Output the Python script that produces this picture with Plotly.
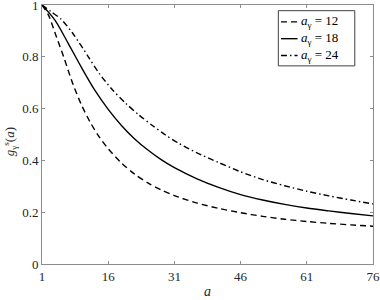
import plotly.graph_objects as go

# data
a_12 = [1, 2.5, 4, 6, 8, 10, 12, 14, 16, 19, 22, 25, 28, 31, 36, 41, 46, 51, 56, 61, 66, 71, 76]
g_12 = [1.0, 0.96, 0.89, 0.795, 0.695, 0.612, 0.545, 0.49, 0.445, 0.39, 0.347, 0.313, 0.286, 0.264, 0.236, 0.215, 0.198, 0.184, 0.173, 0.164, 0.157, 0.151, 0.146]

a_18 = [1, 4, 7, 10, 13, 16, 19, 22, 25, 28, 31, 36, 41, 46, 51, 56, 61, 66, 71, 76]
g_18 = [1.0, 0.94, 0.85, 0.757, 0.67, 0.597, 0.535, 0.483, 0.44, 0.403, 0.372, 0.33, 0.296, 0.268, 0.247, 0.23, 0.216, 0.205, 0.195, 0.186]

a_24 = [1, 3, 5.4, 8, 11.5, 14, 17, 20, 23, 26, 29, 32, 36, 41, 46, 51, 56, 61, 66, 71, 76]
g_24 = [1.0, 0.975, 0.944, 0.89, 0.80, 0.735, 0.672, 0.62, 0.575, 0.535, 0.498, 0.466, 0.43, 0.392, 0.356, 0.326, 0.302, 0.281, 0.263, 0.247, 0.232]

x_ticks = [1, 16, 31, 46, 61, 76]
y_ticks = [0, 0.2, 0.4, 0.6, 0.8, 1]
y_tick_labels = ["0", "0.2", "0.4", "0.6", "0.8", "1"]
legend_labels = ["<i>a</i><sub>γ</sub> = 12", "<i>a</i><sub>γ</sub> = 18", "<i>a</i><sub>γ</sub> = 24"]

dashes = ["6px,4px", "solid", "6px,3px,1.5px,3px"]
series = [(a_12, g_12), (a_18, g_18), (a_24, g_24)]

fig = go.Figure()
for (xs, ys), d, name in zip(series, dashes, legend_labels):
    fig.add_trace(go.Scatter(x=xs, y=ys, mode="lines", name=name,
                             line=dict(color="black", width=1.4, dash=d, shape="spline", smoothing=0.8),
                             showlegend=False, hoverinfo="skip"))

FONT = "Liberation Serif"
axis_color = "#8c8c8c"

fig.update_layout(
    width=380, height=300,
    margin=dict(l=42, r=7, t=5, b=36, autoexpand=False),
    paper_bgcolor="white", plot_bgcolor="white",
    font=dict(family=FONT, size=13, color="#262626"),
)
fig.update_xaxes(range=[1, 76], tickvals=x_ticks, ticktext=[str(v) for v in x_ticks],
                 showgrid=False, zeroline=False, showline=True, linecolor=axis_color, linewidth=1,
                 mirror="ticks", ticks="inside", ticklen=3, tickcolor=axis_color, automargin=False,
                 ticklabeloverflow="allow")
fig.update_yaxes(range=[0, 1], tickvals=y_ticks, ticktext=y_tick_labels,
                 showgrid=False, zeroline=False, showline=True, linecolor=axis_color, linewidth=1,
                 mirror="ticks", ticks="inside", ticklen=3, tickcolor=axis_color, automargin=False,
                 ticklabeloverflow="allow")

# axis titles
fig.add_annotation(xref="paper", yref="paper", x=0.5, y=0, yshift=-27, yanchor="middle",
                   text="<i>a</i>", showarrow=False, font=dict(family=FONT, size=14, color="#262626"))
fig.add_annotation(xref="paper", yref="paper", x=0, xshift=-32, y=0.47, xanchor="center",
                   text="<i>g</i><sub>γ</sub><sup>s</sup>(<i>a</i>)", textangle=-90, showarrow=False,
                   font=dict(family=FONT, size=13, color="#262626"))

# legend box drawn manually (MATLAB style)
fig.add_shape(type="rect", xref="paper", yref="paper", x0=0.714, x1=0.945, y0=0.765, y1=0.978,
              line=dict(color="#404040", width=1), fillcolor="white", layer="above")
rows = [0.935, 0.870, 0.805]
for yy, d, name in zip(rows, dashes, legend_labels):
    fig.add_shape(type="line", xref="paper", yref="paper", x0=0.722, x1=0.772, y0=yy, y1=yy,
                  line=dict(color="black", width=1.4, dash=d), layer="above")
    fig.add_annotation(xref="paper", yref="paper", x=0.776, y=yy, text=name, showarrow=False,
                       xanchor="left", yanchor="middle", font=dict(family=FONT, size=13, color="black"))

fig.write_html("out.html", config={"displayModeBar": False},
               post_script="document.body.style.margin='0';")
